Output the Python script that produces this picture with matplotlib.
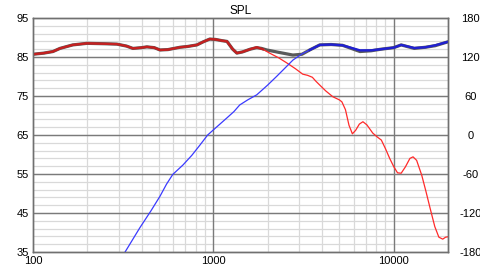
import matplotlib
matplotlib.use("Agg")
import matplotlib.pyplot as plt
from matplotlib.ticker import FixedLocator, NullLocator
import numpy as np

# ---- data ----
total_f = [100, 115, 129, 141, 166, 199, 250, 292, 330, 358, 400, 428, 470, 506, 560,
           654, 720, 811, 880, 955, 1030, 1113, 1190, 1280, 1350, 1450, 1600, 1740,
           1850, 1980, 2300, 2760, 3100, 3420, 3890, 4500, 5200, 6500, 7500, 8500,
           10000, 11000, 13000, 15000, 17000, 20000]
total_db = [85.7, 86.0, 86.4, 87.2, 88.1, 88.5, 88.4, 88.3, 87.8, 87.2, 87.4, 87.6, 87.4,
            86.8, 86.9, 87.5, 87.7, 88.1, 88.9, 89.6, 89.5, 89.2, 89.0, 87.0, 86.0,
            86.3, 87.0, 87.4, 87.2, 86.8, 86.2, 85.5, 85.7, 86.8, 88.1, 88.2, 88.0,
            86.4, 86.6, 87.0, 87.4, 88.1, 87.2, 87.5, 87.9, 88.9]

woofer_f = [100, 115, 129, 141, 166, 199, 250, 292, 330, 358, 400, 428, 470, 506, 560,
            654, 720, 811, 880, 955, 1030, 1113, 1190, 1280, 1350, 1450, 1600, 1740,
            1880, 2050, 2300, 2550, 2850, 3130, 3330, 3540, 3700, 3890, 4200, 4600,
            5000, 5160, 5400, 5650, 5900, 6150, 6450, 6750, 7100, 7650, 8100, 8540,
            9000, 9500, 10000, 10500, 11000, 11600, 12300, 12800, 13400, 14300, 15100,
            15900, 16900, 17800, 18700, 19400, 20000]
woofer_db = [85.7, 86.0, 86.4, 87.2, 88.1, 88.5, 88.4, 88.3, 87.8, 87.2, 87.4, 87.6, 87.4,
             86.8, 86.9, 87.5, 87.7, 88.1, 88.9, 89.6, 89.5, 89.2, 89.0, 87.0, 86.0,
             86.3, 87.0, 87.5, 87.0, 86.0, 84.8, 83.5, 82.0, 80.6, 80.3, 79.8, 78.8,
             77.8, 76.3, 74.8, 74.0, 73.5, 71.5, 67.5, 65.3, 66.2, 67.8, 68.4, 67.6,
             65.5, 64.5, 63.7, 61.5, 59.0, 56.9, 55.3, 55.2, 56.8, 59.0, 59.4, 58.5,
             54.7, 50.5, 46.3, 41.5, 38.8, 38.3, 38.8, 38.9]

tweeter_f = [324, 391, 450, 506, 550, 596, 678, 760, 842, 930, 1000, 1100, 1190, 1300,
             1400, 1550, 1740, 2000, 2240, 2500, 2760, 3100, 3420, 3890, 4500, 5200,
             6500, 7500, 8500, 10000, 11000, 13000, 15000, 17000, 20000]
tweeter_db = [35.0, 41.2, 45.5, 49.3, 52.4, 54.9, 57.3, 59.8, 62.4, 65.0, 66.3, 68.0,
              69.4, 71.0, 72.7, 74.0, 75.3, 77.8, 80.0, 82.2, 84.2, 85.8, 86.8, 88.1,
              88.2, 88.0, 86.7, 86.7, 87.0, 87.4, 88.1, 87.3, 87.5, 88.0, 88.9]

x_ticks = [100, 1000, 10000]
y_ticks = [35, 45, 55, 65, 75, 85, 95]
y2_ticks = [-180, -120, -60, 0, 60, 120, 180]
title = "SPL"

# ---- figure ----
plt.rcParams['font.family'] = ['Liberation Sans', 'DejaVu Sans']
fig = plt.figure(figsize=(4.8, 2.7), dpi=100)
ax = fig.add_axes([33/480, 18/270, 415/480, 234/270])

ax.set_xscale('log')
ax.set_xlim(100, 20000)
ax.set_ylim(35, 95)

# grid
minor_x = [m * d for d in (100, 1000, 10000) for m in range(2, 10) if m * d < 20000]
for xv in minor_x:
    ax.axvline(xv, color='#d9d9d9', lw=0.9, zorder=0)
for yv in np.arange(35, 96, 2):
    ax.axhline(yv, color='#d9d9d9', lw=0.9, zorder=0)
for xv in x_ticks[1:]:
    ax.axvline(xv, color='#7a7a7a', lw=1.0, zorder=1)
for yv in y_ticks[1:-1]:
    ax.axhline(yv, color='#7a7a7a', lw=1.0, zorder=1)

tf = np.array(total_f); td = np.array(total_db)
wf = np.array(woofer_f); wd = np.array(woofer_db)
bf = np.array(tweeter_f); bd = np.array(tweeter_db)

ax.plot(tf, td, color='#5a5a5a', lw=2.3, zorder=3, solid_capstyle='round')
# woofer: thin full, thick in its passband
ax.plot(wf, wd, color='#ff2a2a', lw=0.9, zorder=4)
m = wf <= 1880
ax.plot(wf[m], wd[m], color='#c42020', lw=1.7, zorder=5)
# tweeter: thin full, thick in its passband
ax.plot(bf, bd, color='#3a3aff', lw=0.9, zorder=4)
m = bf >= 3420
ax.plot(bf[m], bd[m], color='#2020d0', lw=1.7, zorder=5)

ax.xaxis.set_major_locator(FixedLocator(x_ticks))
ax.xaxis.set_minor_locator(NullLocator())
ax.set_xticklabels([str(v) for v in x_ticks])
ax.set_yticks(y_ticks)
ax.set_yticklabels([str(v) for v in y_ticks])
ax.tick_params(axis='both', length=0, labelsize=8, colors='black', pad=3)
ax.tick_params(axis='x', pad=3)

ax2 = ax.twinx()
ax2.set_ylim(-180, 180)
ax2.set_yticks(y2_ticks)
ax2.set_yticklabels([str(v) for v in y2_ticks])
ax2.tick_params(axis='y', length=0, labelsize=8, colors='black', pad=16)
for lbl in ax2.get_yticklabels():
    lbl.set_horizontalalignment('center')

for a in (ax, ax2):
    for s in a.spines.values():
        s.set_color('#707070')
        s.set_linewidth(1.0)

ax.set_title(title, fontsize=8.5, pad=3)

fig.savefig('out.png', dpi=100)
